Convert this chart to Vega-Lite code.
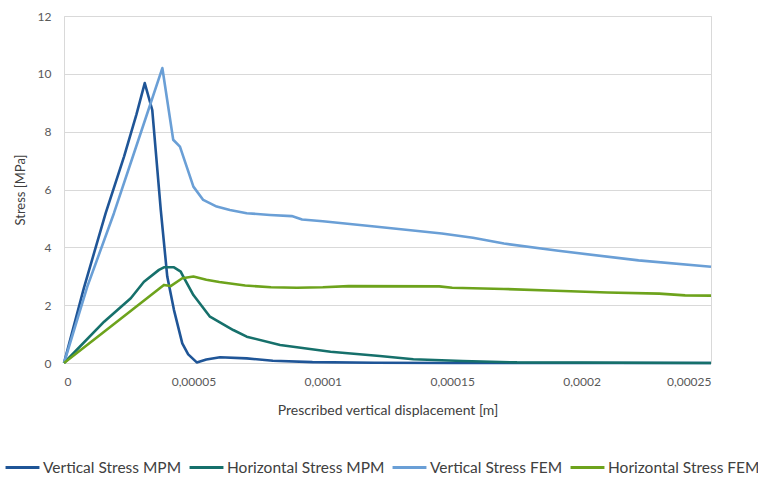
{
  "$schema": "https://vega.github.io/schema/vega-lite/v6.json",
  "width": 647,
  "height": 347,
  "autosize": {"type": "none"},
  "padding": {"left": 64, "top": 16, "right": 47, "bottom": 119},
  "background": "white",
  "config": {
    "view": {"stroke": "#d9d9d9", "strokeWidth": 1},
    "font": "Lato"
  },
  "data": {
    "values": [
      {"series": "Vertical Stress MPM", "x": 0, "stress": 0},
      {"series": "Vertical Stress MPM", "x": 0.0000077, "stress": 2.6},
      {"series": "Vertical Stress MPM", "x": 0.0000161, "stress": 5.18},
      {"series": "Vertical Stress MPM", "x": 0.0000232, "stress": 7.14},
      {"series": "Vertical Stress MPM", "x": 0.000028, "stress": 8.6},
      {"series": "Vertical Stress MPM", "x": 0.0000312, "stress": 9.68},
      {"series": "Vertical Stress MPM", "x": 0.0000341, "stress": 8.75},
      {"series": "Vertical Stress MPM", "x": 0.0000374, "stress": 5.29},
      {"series": "Vertical Stress MPM", "x": 0.0000399, "stress": 2.99},
      {"series": "Vertical Stress MPM", "x": 0.0000425, "stress": 1.83},
      {"series": "Vertical Stress MPM", "x": 0.0000457, "stress": 0.68},
      {"series": "Vertical Stress MPM", "x": 0.000048, "stress": 0.3},
      {"series": "Vertical Stress MPM", "x": 0.0000513, "stress": 0.02},
      {"series": "Vertical Stress MPM", "x": 0.000055, "stress": 0.12},
      {"series": "Vertical Stress MPM", "x": 0.0000603, "stress": 0.2},
      {"series": "Vertical Stress MPM", "x": 0.0000706, "stress": 0.16},
      {"series": "Vertical Stress MPM", "x": 0.0000807, "stress": 0.08},
      {"series": "Vertical Stress MPM", "x": 0.000096, "stress": 0.03},
      {"series": "Vertical Stress MPM", "x": 0.00012, "stress": 0.01},
      {"series": "Vertical Stress MPM", "x": 0.00015, "stress": 0},
      {"series": "Vertical Stress MPM", "x": 0.00025, "stress": 0},
      {"series": "Horizontal Stress MPM", "x": 0, "stress": 0},
      {"series": "Horizontal Stress MPM", "x": 0.0000155, "stress": 1.43},
      {"series": "Horizontal Stress MPM", "x": 0.0000258, "stress": 2.24},
      {"series": "Horizontal Stress MPM", "x": 0.0000309, "stress": 2.81},
      {"series": "Horizontal Stress MPM", "x": 0.0000367, "stress": 3.22},
      {"series": "Horizontal Stress MPM", "x": 0.0000386, "stress": 3.31},
      {"series": "Horizontal Stress MPM", "x": 0.0000425, "stress": 3.31},
      {"series": "Horizontal Stress MPM", "x": 0.0000451, "stress": 3.16},
      {"series": "Horizontal Stress MPM", "x": 0.0000461, "stress": 2.99},
      {"series": "Horizontal Stress MPM", "x": 0.00005, "stress": 2.35},
      {"series": "Horizontal Stress MPM", "x": 0.0000564, "stress": 1.6},
      {"series": "Horizontal Stress MPM", "x": 0.0000654, "stress": 1.14},
      {"series": "Horizontal Stress MPM", "x": 0.0000706, "stress": 0.91},
      {"series": "Horizontal Stress MPM", "x": 0.0000835, "stress": 0.62},
      {"series": "Horizontal Stress MPM", "x": 0.000103, "stress": 0.39},
      {"series": "Horizontal Stress MPM", "x": 0.000122, "stress": 0.24},
      {"series": "Horizontal Stress MPM", "x": 0.000135, "stress": 0.13},
      {"series": "Horizontal Stress MPM", "x": 0.000154, "stress": 0.07},
      {"series": "Horizontal Stress MPM", "x": 0.000175, "stress": 0.02},
      {"series": "Horizontal Stress MPM", "x": 0.00025, "stress": 0},
      {"series": "Vertical Stress FEM", "x": 0, "stress": 0},
      {"series": "Vertical Stress FEM", "x": 0.000009, "stress": 2.64},
      {"series": "Vertical Stress FEM", "x": 0.0000193, "stress": 5.18},
      {"series": "Vertical Stress FEM", "x": 0.0000309, "stress": 8.29},
      {"series": "Vertical Stress FEM", "x": 0.000038, "stress": 10.2},
      {"series": "Vertical Stress FEM", "x": 0.0000422, "stress": 7.72},
      {"series": "Vertical Stress FEM", "x": 0.0000448, "stress": 7.48},
      {"series": "Vertical Stress FEM", "x": 0.0000474, "stress": 6.79},
      {"series": "Vertical Stress FEM", "x": 0.00005, "stress": 6.1},
      {"series": "Vertical Stress FEM", "x": 0.0000538, "stress": 5.64},
      {"series": "Vertical Stress FEM", "x": 0.000059, "stress": 5.41},
      {"series": "Vertical Stress FEM", "x": 0.0000641, "stress": 5.29},
      {"series": "Vertical Stress FEM", "x": 0.0000706, "stress": 5.18},
      {"series": "Vertical Stress FEM", "x": 0.0000796, "stress": 5.12},
      {"series": "Vertical Stress FEM", "x": 0.000088, "stress": 5.08},
      {"series": "Vertical Stress FEM", "x": 0.000092, "stress": 4.96},
      {"series": "Vertical Stress FEM", "x": 0.0001, "stress": 4.9},
      {"series": "Vertical Stress FEM", "x": 0.00012, "stress": 4.72},
      {"series": "Vertical Stress FEM", "x": 0.000146, "stress": 4.48},
      {"series": "Vertical Stress FEM", "x": 0.000158, "stress": 4.33},
      {"series": "Vertical Stress FEM", "x": 0.00017, "stress": 4.13},
      {"series": "Vertical Stress FEM", "x": 0.000191, "stress": 3.88},
      {"series": "Vertical Stress FEM", "x": 0.000222, "stress": 3.55},
      {"series": "Vertical Stress FEM", "x": 0.00025, "stress": 3.33},
      {"series": "Horizontal Stress FEM", "x": 0, "stress": 0},
      {"series": "Horizontal Stress FEM", "x": 0.0000155, "stress": 1.08},
      {"series": "Horizontal Stress FEM", "x": 0.0000386, "stress": 2.7},
      {"series": "Horizontal Stress FEM", "x": 0.0000412, "stress": 2.66},
      {"series": "Horizontal Stress FEM", "x": 0.0000457, "stress": 2.93},
      {"series": "Horizontal Stress FEM", "x": 0.00005, "stress": 2.99},
      {"series": "Horizontal Stress FEM", "x": 0.000055, "stress": 2.88},
      {"series": "Horizontal Stress FEM", "x": 0.00006, "stress": 2.8},
      {"series": "Horizontal Stress FEM", "x": 0.00007, "stress": 2.68},
      {"series": "Horizontal Stress FEM", "x": 0.00008, "stress": 2.62},
      {"series": "Horizontal Stress FEM", "x": 0.00009, "stress": 2.6},
      {"series": "Horizontal Stress FEM", "x": 0.0001, "stress": 2.62},
      {"series": "Horizontal Stress FEM", "x": 0.00011, "stress": 2.66},
      {"series": "Horizontal Stress FEM", "x": 0.000145, "stress": 2.65},
      {"series": "Horizontal Stress FEM", "x": 0.00015, "stress": 2.6},
      {"series": "Horizontal Stress FEM", "x": 0.00017, "stress": 2.56},
      {"series": "Horizontal Stress FEM", "x": 0.00019, "stress": 2.5},
      {"series": "Horizontal Stress FEM", "x": 0.00021, "stress": 2.44},
      {"series": "Horizontal Stress FEM", "x": 0.00023, "stress": 2.4},
      {"series": "Horizontal Stress FEM", "x": 0.00024, "stress": 2.34},
      {"series": "Horizontal Stress FEM", "x": 0.00025, "stress": 2.33}
    ]
  },
  "mark": {"type": "line", "strokeWidth": 2.6, "strokeJoin": "round"},
  "encoding": {
    "x": {
      "field": "x",
      "type": "quantitative",
      "scale": {"domain": [0, 0.00025], "nice": false, "zero": true},
      "axis": {
        "title": "Prescribed vertical displacement [m]",
        "values": [0, 0.00005, 0.0001, 0.00015, 0.0002, 0.00025],
        "labelExpr": "replace(format(datum.value, '~g'), '.', ',')",
        "grid": false,
        "ticks": false,
        "domain": false,
        "labelFontSize": 12,
        "labelColor": "#595959",
        "labelPadding": 13,
        "titleFontSize": 14,
        "titleFontWeight": "normal",
        "titleColor": "#404040",
        "titlePadding": 16
      }
    },
    "y": {
      "field": "stress",
      "type": "quantitative",
      "scale": {"domain": [0, 12], "nice": false},
      "axis": {
        "title": "Stress [MPa]",
        "values": [0, 2, 4, 6, 8, 10, 12],
        "grid": true,
        "gridColor": "#d9d9d9",
        "gridWidth": 1,
        "ticks": false,
        "domain": false,
        "labelFontSize": 12,
        "labelColor": "#595959",
        "labelPadding": 13,
        "titleFontSize": 13,
        "titleFontWeight": "normal",
        "titleColor": "#404040",
        "titlePadding": 10
      }
    },
    "color": {
      "field": "series",
      "type": "nominal",
      "sort": ["Vertical Stress MPM", "Horizontal Stress MPM", "Vertical Stress FEM", "Horizontal Stress FEM"],
      "scale": {
        "domain": ["Vertical Stress MPM", "Horizontal Stress MPM", "Vertical Stress FEM", "Horizontal Stress FEM"],
        "range": ["#1f5597", "#16706b", "#6a9fd6", "#6da31c"]
      },
      "legend": {
        "title": null,
        "orient": "none",
        "direction": "horizontal",
        "legendX": -60,
        "legendY": 433,
        "symbolType": "stroke",
        "symbolSize": 1150,
        "symbolStrokeWidth": 3,
        "labelFontSize": 15.5,
        "labelColor": "#404040",
        "labelOffset": 2,
        "columnPadding": 1,
        "labelLimit": 300
      }
    }
  }
}
